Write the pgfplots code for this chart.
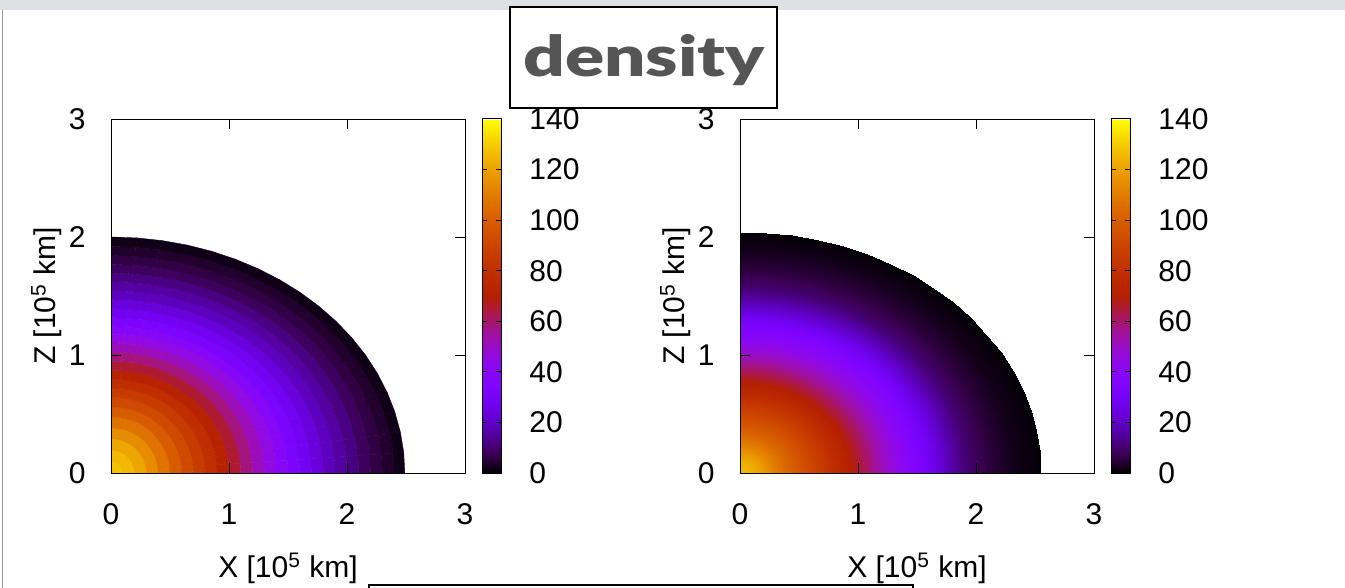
\documentclass[border=0pt]{standalone}
\usepackage{pgfplots}
\pgfplotsset{compat=1.18}
\usepackage{pgfplotstable}
\usepackage{graphicx}
\usepackage{fontspec}
\setmainfont{Liberation Sans}
\newfontfamily\titlefont{Lato Black}
\definecolor{titlegray}{HTML}{555555}
\definecolor{bandgray}{HTML}{DDE1E6}
\pgfplotsset{colormap={gp}{
rgb=(0,0,0) rgb=(0.224,0,0.309) rgb=(0.316,0.001,0.588) rgb=(0.387,0.003,0.809)
rgb=(0.447,0.008,0.951) rgb=(0.5,0.016,1) rgb=(0.548,0.027,0.951) rgb=(0.592,0.043,0.809)
rgb=(0.632,0.064,0.588) rgb=(0.671,0.091,0.309) rgb=(0.707,0.125,0) rgb=(0.742,0.166,0)
rgb=(0.775,0.216,0) rgb=(0.806,0.275,0) rgb=(0.837,0.343,0) rgb=(0.866,0.422,0)
rgb=(0.894,0.512,0) rgb=(0.922,0.614,0) rgb=(0.949,0.729,0) rgb=(0.975,0.857,0) rgb=(1,1,0)}}
% t = angle, ax/bz = semi-axes of a density ring, rho = density (left L, right R)
\pgfplotstableread{
t axL bzL rhoL axR bzR rhoR
0 0 0 128 0 0 126
0 0.1 0.098 127 0.1 0.082 124
0 0.2 0.195 124 0.2 0.164 118
0 0.3 0.29 118 0.3 0.246 110
0 0.4 0.383 111 0.4 0.328 103
0 0.5 0.476 103 0.5 0.41 97
0 0.6 0.56 96 0.6 0.492 91
0 0.7 0.642 89 0.7 0.574 85
0 0.8 0.721 82 0.8 0.656 78
0 0.9 0.796 75 0.9 0.738 72
0 1.0 0.87 69 1.0 0.82 66
0 1.1 0.948 62 1.1 0.902 59
0 1.2 1.026 55 1.2 0.984 52
0 1.3 1.102 48 1.3 1.066 46
0 1.4 1.176 42 1.4 1.148 40
0 1.5 1.24 36 1.5 1.23 35
0 1.6 1.317 31 1.6 1.311 29
0 1.7 1.393 26 1.7 1.393 22
0 1.8 1.469 21 1.8 1.475 16
0 1.9 1.545 17 1.9 1.557 11
0 2.0 1.619 14 2.0 1.639 8
0 2.1 1.694 10 2.1 1.72 5.5
0 2.2 1.768 7 2.2 1.801 4
0 2.3 1.843 5 2.3 1.882 2.5
0 2.4 1.92 3 2.4 1.962 1.5
0 2.49 2.0 1 2.55 2.045 0.5
5 0 0 128 0 0 126
5 0.1 0.098 127 0.1 0.082 124
5 0.2 0.195 124 0.2 0.164 118
5 0.3 0.29 118 0.3 0.246 110
5 0.4 0.383 111 0.4 0.328 103
5 0.5 0.476 103 0.5 0.41 97
5 0.6 0.56 96 0.6 0.492 91
5 0.7 0.642 89 0.7 0.574 85
5 0.8 0.721 82 0.8 0.656 78
5 0.9 0.796 75 0.9 0.738 72
5 1.0 0.87 69 1.0 0.82 66
5 1.1 0.948 62 1.1 0.902 59
5 1.2 1.026 55 1.2 0.984 52
5 1.3 1.102 48 1.3 1.066 46
5 1.4 1.176 42 1.4 1.148 40
5 1.5 1.24 36 1.5 1.23 35
5 1.6 1.317 31 1.6 1.311 29
5 1.7 1.393 26 1.7 1.393 22
5 1.8 1.469 21 1.8 1.475 16
5 1.9 1.545 17 1.9 1.557 11
5 2.0 1.619 14 2.0 1.639 8
5 2.1 1.694 10 2.1 1.72 5.5
5 2.2 1.768 7 2.2 1.801 4
5 2.3 1.843 5 2.3 1.882 2.5
5 2.4 1.92 3 2.4 1.962 1.5
5 2.49 2.0 1 2.55 2.045 0.5
10 0 0 128 0 0 126
10 0.1 0.098 127 0.1 0.082 124
10 0.2 0.195 124 0.2 0.164 118
10 0.3 0.29 118 0.3 0.246 110
10 0.4 0.383 111 0.4 0.328 103
10 0.5 0.476 103 0.5 0.41 97
10 0.6 0.56 96 0.6 0.492 91
10 0.7 0.642 89 0.7 0.574 85
10 0.8 0.721 82 0.8 0.656 78
10 0.9 0.796 75 0.9 0.738 72
10 1.0 0.87 69 1.0 0.82 66
10 1.1 0.948 62 1.1 0.902 59
10 1.2 1.026 55 1.2 0.984 52
10 1.3 1.102 48 1.3 1.066 46
10 1.4 1.176 42 1.4 1.148 40
10 1.5 1.24 36 1.5 1.23 35
10 1.6 1.317 31 1.6 1.311 29
10 1.7 1.393 26 1.7 1.393 22
10 1.8 1.469 21 1.8 1.475 16
10 1.9 1.545 17 1.9 1.557 11
10 2.0 1.619 14 2.0 1.639 8
10 2.1 1.694 10 2.1 1.72 5.5
10 2.2 1.768 7 2.2 1.801 4
10 2.3 1.843 5 2.3 1.882 2.5
10 2.4 1.92 3 2.4 1.962 1.5
10 2.49 2.0 1 2.55 2.045 0.5
15 0 0 128 0 0 126
15 0.1 0.098 127 0.1 0.082 124
15 0.2 0.195 124 0.2 0.164 118
15 0.3 0.29 118 0.3 0.246 110
15 0.4 0.383 111 0.4 0.328 103
15 0.5 0.476 103 0.5 0.41 97
15 0.6 0.56 96 0.6 0.492 91
15 0.7 0.642 89 0.7 0.574 85
15 0.8 0.721 82 0.8 0.656 78
15 0.9 0.796 75 0.9 0.738 72
15 1.0 0.87 69 1.0 0.82 66
15 1.1 0.948 62 1.1 0.902 59
15 1.2 1.026 55 1.2 0.984 52
15 1.3 1.102 48 1.3 1.066 46
15 1.4 1.176 42 1.4 1.148 40
15 1.5 1.24 36 1.5 1.23 35
15 1.6 1.317 31 1.6 1.311 29
15 1.7 1.393 26 1.7 1.393 22
15 1.8 1.469 21 1.8 1.475 16
15 1.9 1.545 17 1.9 1.557 11
15 2.0 1.619 14 2.0 1.639 8
15 2.1 1.694 10 2.1 1.72 5.5
15 2.2 1.768 7 2.2 1.801 4
15 2.3 1.843 5 2.3 1.882 2.5
15 2.4 1.92 3 2.4 1.962 1.5
15 2.49 2.0 1 2.55 2.045 0.5
20 0 0 128 0 0 126
20 0.1 0.098 127 0.1 0.082 124
20 0.2 0.195 124 0.2 0.164 118
20 0.3 0.29 118 0.3 0.246 110
20 0.4 0.383 111 0.4 0.328 103
20 0.5 0.476 103 0.5 0.41 97
20 0.6 0.56 96 0.6 0.492 91
20 0.7 0.642 89 0.7 0.574 85
20 0.8 0.721 82 0.8 0.656 78
20 0.9 0.796 75 0.9 0.738 72
20 1.0 0.87 69 1.0 0.82 66
20 1.1 0.948 62 1.1 0.902 59
20 1.2 1.026 55 1.2 0.984 52
20 1.3 1.102 48 1.3 1.066 46
20 1.4 1.176 42 1.4 1.148 40
20 1.5 1.24 36 1.5 1.23 35
20 1.6 1.317 31 1.6 1.311 29
20 1.7 1.393 26 1.7 1.393 22
20 1.8 1.469 21 1.8 1.475 16
20 1.9 1.545 17 1.9 1.557 11
20 2.0 1.619 14 2.0 1.639 8
20 2.1 1.694 10 2.1 1.72 5.5
20 2.2 1.768 7 2.2 1.801 4
20 2.3 1.843 5 2.3 1.882 2.5
20 2.4 1.92 3 2.4 1.962 1.5
20 2.49 2.0 1 2.55 2.045 0.5
25 0 0 128 0 0 126
25 0.1 0.098 127 0.1 0.082 124
25 0.2 0.195 124 0.2 0.164 118
25 0.3 0.29 118 0.3 0.246 110
25 0.4 0.383 111 0.4 0.328 103
25 0.5 0.476 103 0.5 0.41 97
25 0.6 0.56 96 0.6 0.492 91
25 0.7 0.642 89 0.7 0.574 85
25 0.8 0.721 82 0.8 0.656 78
25 0.9 0.796 75 0.9 0.738 72
25 1.0 0.87 69 1.0 0.82 66
25 1.1 0.948 62 1.1 0.902 59
25 1.2 1.026 55 1.2 0.984 52
25 1.3 1.102 48 1.3 1.066 46
25 1.4 1.176 42 1.4 1.148 40
25 1.5 1.24 36 1.5 1.23 35
25 1.6 1.317 31 1.6 1.311 29
25 1.7 1.393 26 1.7 1.393 22
25 1.8 1.469 21 1.8 1.475 16
25 1.9 1.545 17 1.9 1.557 11
25 2.0 1.619 14 2.0 1.639 8
25 2.1 1.694 10 2.1 1.72 5.5
25 2.2 1.768 7 2.2 1.801 4
25 2.3 1.843 5 2.3 1.882 2.5
25 2.4 1.92 3 2.4 1.962 1.5
25 2.49 2.0 1 2.55 2.045 0.5
30 0 0 128 0 0 126
30 0.1 0.098 127 0.1 0.082 124
30 0.2 0.195 124 0.2 0.164 118
30 0.3 0.29 118 0.3 0.246 110
30 0.4 0.383 111 0.4 0.328 103
30 0.5 0.476 103 0.5 0.41 97
30 0.6 0.56 96 0.6 0.492 91
30 0.7 0.642 89 0.7 0.574 85
30 0.8 0.721 82 0.8 0.656 78
30 0.9 0.796 75 0.9 0.738 72
30 1.0 0.87 69 1.0 0.82 66
30 1.1 0.948 62 1.1 0.902 59
30 1.2 1.026 55 1.2 0.984 52
30 1.3 1.102 48 1.3 1.066 46
30 1.4 1.176 42 1.4 1.148 40
30 1.5 1.24 36 1.5 1.23 35
30 1.6 1.317 31 1.6 1.311 29
30 1.7 1.393 26 1.7 1.393 22
30 1.8 1.469 21 1.8 1.475 16
30 1.9 1.545 17 1.9 1.557 11
30 2.0 1.619 14 2.0 1.639 8
30 2.1 1.694 10 2.1 1.72 5.5
30 2.2 1.768 7 2.2 1.801 4
30 2.3 1.843 5 2.3 1.882 2.5
30 2.4 1.92 3 2.4 1.962 1.5
30 2.49 2.0 1 2.55 2.045 0.5
35 0 0 128 0 0 126
35 0.1 0.098 127 0.1 0.082 124
35 0.2 0.195 124 0.2 0.164 118
35 0.3 0.29 118 0.3 0.246 110
35 0.4 0.383 111 0.4 0.328 103
35 0.5 0.476 103 0.5 0.41 97
35 0.6 0.56 96 0.6 0.492 91
35 0.7 0.642 89 0.7 0.574 85
35 0.8 0.721 82 0.8 0.656 78
35 0.9 0.796 75 0.9 0.738 72
35 1.0 0.87 69 1.0 0.82 66
35 1.1 0.948 62 1.1 0.902 59
35 1.2 1.026 55 1.2 0.984 52
35 1.3 1.102 48 1.3 1.066 46
35 1.4 1.176 42 1.4 1.148 40
35 1.5 1.24 36 1.5 1.23 35
35 1.6 1.317 31 1.6 1.311 29
35 1.7 1.393 26 1.7 1.393 22
35 1.8 1.469 21 1.8 1.475 16
35 1.9 1.545 17 1.9 1.557 11
35 2.0 1.619 14 2.0 1.639 8
35 2.1 1.694 10 2.1 1.72 5.5
35 2.2 1.768 7 2.2 1.801 4
35 2.3 1.843 5 2.3 1.882 2.5
35 2.4 1.92 3 2.4 1.962 1.5
35 2.49 2.0 1 2.55 2.045 0.5
40 0 0 128 0 0 126
40 0.1 0.098 127 0.1 0.082 124
40 0.2 0.195 124 0.2 0.164 118
40 0.3 0.29 118 0.3 0.246 110
40 0.4 0.383 111 0.4 0.328 103
40 0.5 0.476 103 0.5 0.41 97
40 0.6 0.56 96 0.6 0.492 91
40 0.7 0.642 89 0.7 0.574 85
40 0.8 0.721 82 0.8 0.656 78
40 0.9 0.796 75 0.9 0.738 72
40 1.0 0.87 69 1.0 0.82 66
40 1.1 0.948 62 1.1 0.902 59
40 1.2 1.026 55 1.2 0.984 52
40 1.3 1.102 48 1.3 1.066 46
40 1.4 1.176 42 1.4 1.148 40
40 1.5 1.24 36 1.5 1.23 35
40 1.6 1.317 31 1.6 1.311 29
40 1.7 1.393 26 1.7 1.393 22
40 1.8 1.469 21 1.8 1.475 16
40 1.9 1.545 17 1.9 1.557 11
40 2.0 1.619 14 2.0 1.639 8
40 2.1 1.694 10 2.1 1.72 5.5
40 2.2 1.768 7 2.2 1.801 4
40 2.3 1.843 5 2.3 1.882 2.5
40 2.4 1.92 3 2.4 1.962 1.5
40 2.49 2.0 1 2.55 2.045 0.5
45 0 0 128 0 0 126
45 0.1 0.098 127 0.1 0.082 124
45 0.2 0.195 124 0.2 0.164 118
45 0.3 0.29 118 0.3 0.246 110
45 0.4 0.383 111 0.4 0.328 103
45 0.5 0.476 103 0.5 0.41 97
45 0.6 0.56 96 0.6 0.492 91
45 0.7 0.642 89 0.7 0.574 85
45 0.8 0.721 82 0.8 0.656 78
45 0.9 0.796 75 0.9 0.738 72
45 1.0 0.87 69 1.0 0.82 66
45 1.1 0.948 62 1.1 0.902 59
45 1.2 1.026 55 1.2 0.984 52
45 1.3 1.102 48 1.3 1.066 46
45 1.4 1.176 42 1.4 1.148 40
45 1.5 1.24 36 1.5 1.23 35
45 1.6 1.317 31 1.6 1.311 29
45 1.7 1.393 26 1.7 1.393 22
45 1.8 1.469 21 1.8 1.475 16
45 1.9 1.545 17 1.9 1.557 11
45 2.0 1.619 14 2.0 1.639 8
45 2.1 1.694 10 2.1 1.72 5.5
45 2.2 1.768 7 2.2 1.801 4
45 2.3 1.843 5 2.3 1.882 2.5
45 2.4 1.92 3 2.4 1.962 1.5
45 2.49 2.0 1 2.55 2.045 0.5
50 0 0 128 0 0 126
50 0.1 0.098 127 0.1 0.082 124
50 0.2 0.195 124 0.2 0.164 118
50 0.3 0.29 118 0.3 0.246 110
50 0.4 0.383 111 0.4 0.328 103
50 0.5 0.476 103 0.5 0.41 97
50 0.6 0.56 96 0.6 0.492 91
50 0.7 0.642 89 0.7 0.574 85
50 0.8 0.721 82 0.8 0.656 78
50 0.9 0.796 75 0.9 0.738 72
50 1.0 0.87 69 1.0 0.82 66
50 1.1 0.948 62 1.1 0.902 59
50 1.2 1.026 55 1.2 0.984 52
50 1.3 1.102 48 1.3 1.066 46
50 1.4 1.176 42 1.4 1.148 40
50 1.5 1.24 36 1.5 1.23 35
50 1.6 1.317 31 1.6 1.311 29
50 1.7 1.393 26 1.7 1.393 22
50 1.8 1.469 21 1.8 1.475 16
50 1.9 1.545 17 1.9 1.557 11
50 2.0 1.619 14 2.0 1.639 8
50 2.1 1.694 10 2.1 1.72 5.5
50 2.2 1.768 7 2.2 1.801 4
50 2.3 1.843 5 2.3 1.882 2.5
50 2.4 1.92 3 2.4 1.962 1.5
50 2.49 2.0 1 2.55 2.045 0.5
55 0 0 128 0 0 126
55 0.1 0.098 127 0.1 0.082 124
55 0.2 0.195 124 0.2 0.164 118
55 0.3 0.29 118 0.3 0.246 110
55 0.4 0.383 111 0.4 0.328 103
55 0.5 0.476 103 0.5 0.41 97
55 0.6 0.56 96 0.6 0.492 91
55 0.7 0.642 89 0.7 0.574 85
55 0.8 0.721 82 0.8 0.656 78
55 0.9 0.796 75 0.9 0.738 72
55 1.0 0.87 69 1.0 0.82 66
55 1.1 0.948 62 1.1 0.902 59
55 1.2 1.026 55 1.2 0.984 52
55 1.3 1.102 48 1.3 1.066 46
55 1.4 1.176 42 1.4 1.148 40
55 1.5 1.24 36 1.5 1.23 35
55 1.6 1.317 31 1.6 1.311 29
55 1.7 1.393 26 1.7 1.393 22
55 1.8 1.469 21 1.8 1.475 16
55 1.9 1.545 17 1.9 1.557 11
55 2.0 1.619 14 2.0 1.639 8
55 2.1 1.694 10 2.1 1.72 5.5
55 2.2 1.768 7 2.2 1.801 4
55 2.3 1.843 5 2.3 1.882 2.5
55 2.4 1.92 3 2.4 1.962 1.5
55 2.49 2.0 1 2.55 2.045 0.5
60 0 0 128 0 0 126
60 0.1 0.098 127 0.1 0.082 124
60 0.2 0.195 124 0.2 0.164 118
60 0.3 0.29 118 0.3 0.246 110
60 0.4 0.383 111 0.4 0.328 103
60 0.5 0.476 103 0.5 0.41 97
60 0.6 0.56 96 0.6 0.492 91
60 0.7 0.642 89 0.7 0.574 85
60 0.8 0.721 82 0.8 0.656 78
60 0.9 0.796 75 0.9 0.738 72
60 1.0 0.87 69 1.0 0.82 66
60 1.1 0.948 62 1.1 0.902 59
60 1.2 1.026 55 1.2 0.984 52
60 1.3 1.102 48 1.3 1.066 46
60 1.4 1.176 42 1.4 1.148 40
60 1.5 1.24 36 1.5 1.23 35
60 1.6 1.317 31 1.6 1.311 29
60 1.7 1.393 26 1.7 1.393 22
60 1.8 1.469 21 1.8 1.475 16
60 1.9 1.545 17 1.9 1.557 11
60 2.0 1.619 14 2.0 1.639 8
60 2.1 1.694 10 2.1 1.72 5.5
60 2.2 1.768 7 2.2 1.801 4
60 2.3 1.843 5 2.3 1.882 2.5
60 2.4 1.92 3 2.4 1.962 1.5
60 2.49 2.0 1 2.55 2.045 0.5
65 0 0 128 0 0 126
65 0.1 0.098 127 0.1 0.082 124
65 0.2 0.195 124 0.2 0.164 118
65 0.3 0.29 118 0.3 0.246 110
65 0.4 0.383 111 0.4 0.328 103
65 0.5 0.476 103 0.5 0.41 97
65 0.6 0.56 96 0.6 0.492 91
65 0.7 0.642 89 0.7 0.574 85
65 0.8 0.721 82 0.8 0.656 78
65 0.9 0.796 75 0.9 0.738 72
65 1.0 0.87 69 1.0 0.82 66
65 1.1 0.948 62 1.1 0.902 59
65 1.2 1.026 55 1.2 0.984 52
65 1.3 1.102 48 1.3 1.066 46
65 1.4 1.176 42 1.4 1.148 40
65 1.5 1.24 36 1.5 1.23 35
65 1.6 1.317 31 1.6 1.311 29
65 1.7 1.393 26 1.7 1.393 22
65 1.8 1.469 21 1.8 1.475 16
65 1.9 1.545 17 1.9 1.557 11
65 2.0 1.619 14 2.0 1.639 8
65 2.1 1.694 10 2.1 1.72 5.5
65 2.2 1.768 7 2.2 1.801 4
65 2.3 1.843 5 2.3 1.882 2.5
65 2.4 1.92 3 2.4 1.962 1.5
65 2.49 2.0 1 2.55 2.045 0.5
70 0 0 128 0 0 126
70 0.1 0.098 127 0.1 0.082 124
70 0.2 0.195 124 0.2 0.164 118
70 0.3 0.29 118 0.3 0.246 110
70 0.4 0.383 111 0.4 0.328 103
70 0.5 0.476 103 0.5 0.41 97
70 0.6 0.56 96 0.6 0.492 91
70 0.7 0.642 89 0.7 0.574 85
70 0.8 0.721 82 0.8 0.656 78
70 0.9 0.796 75 0.9 0.738 72
70 1.0 0.87 69 1.0 0.82 66
70 1.1 0.948 62 1.1 0.902 59
70 1.2 1.026 55 1.2 0.984 52
70 1.3 1.102 48 1.3 1.066 46
70 1.4 1.176 42 1.4 1.148 40
70 1.5 1.24 36 1.5 1.23 35
70 1.6 1.317 31 1.6 1.311 29
70 1.7 1.393 26 1.7 1.393 22
70 1.8 1.469 21 1.8 1.475 16
70 1.9 1.545 17 1.9 1.557 11
70 2.0 1.619 14 2.0 1.639 8
70 2.1 1.694 10 2.1 1.72 5.5
70 2.2 1.768 7 2.2 1.801 4
70 2.3 1.843 5 2.3 1.882 2.5
70 2.4 1.92 3 2.4 1.962 1.5
70 2.49 2.0 1 2.55 2.045 0.5
75 0 0 128 0 0 126
75 0.1 0.098 127 0.1 0.082 124
75 0.2 0.195 124 0.2 0.164 118
75 0.3 0.29 118 0.3 0.246 110
75 0.4 0.383 111 0.4 0.328 103
75 0.5 0.476 103 0.5 0.41 97
75 0.6 0.56 96 0.6 0.492 91
75 0.7 0.642 89 0.7 0.574 85
75 0.8 0.721 82 0.8 0.656 78
75 0.9 0.796 75 0.9 0.738 72
75 1.0 0.87 69 1.0 0.82 66
75 1.1 0.948 62 1.1 0.902 59
75 1.2 1.026 55 1.2 0.984 52
75 1.3 1.102 48 1.3 1.066 46
75 1.4 1.176 42 1.4 1.148 40
75 1.5 1.24 36 1.5 1.23 35
75 1.6 1.317 31 1.6 1.311 29
75 1.7 1.393 26 1.7 1.393 22
75 1.8 1.469 21 1.8 1.475 16
75 1.9 1.545 17 1.9 1.557 11
75 2.0 1.619 14 2.0 1.639 8
75 2.1 1.694 10 2.1 1.72 5.5
75 2.2 1.768 7 2.2 1.801 4
75 2.3 1.843 5 2.3 1.882 2.5
75 2.4 1.92 3 2.4 1.962 1.5
75 2.49 2.0 1 2.55 2.045 0.5
80 0 0 128 0 0 126
80 0.1 0.098 127 0.1 0.082 124
80 0.2 0.195 124 0.2 0.164 118
80 0.3 0.29 118 0.3 0.246 110
80 0.4 0.383 111 0.4 0.328 103
80 0.5 0.476 103 0.5 0.41 97
80 0.6 0.56 96 0.6 0.492 91
80 0.7 0.642 89 0.7 0.574 85
80 0.8 0.721 82 0.8 0.656 78
80 0.9 0.796 75 0.9 0.738 72
80 1.0 0.87 69 1.0 0.82 66
80 1.1 0.948 62 1.1 0.902 59
80 1.2 1.026 55 1.2 0.984 52
80 1.3 1.102 48 1.3 1.066 46
80 1.4 1.176 42 1.4 1.148 40
80 1.5 1.24 36 1.5 1.23 35
80 1.6 1.317 31 1.6 1.311 29
80 1.7 1.393 26 1.7 1.393 22
80 1.8 1.469 21 1.8 1.475 16
80 1.9 1.545 17 1.9 1.557 11
80 2.0 1.619 14 2.0 1.639 8
80 2.1 1.694 10 2.1 1.72 5.5
80 2.2 1.768 7 2.2 1.801 4
80 2.3 1.843 5 2.3 1.882 2.5
80 2.4 1.92 3 2.4 1.962 1.5
80 2.49 2.0 1 2.55 2.045 0.5
85 0 0 128 0 0 126
85 0.1 0.098 127 0.1 0.082 124
85 0.2 0.195 124 0.2 0.164 118
85 0.3 0.29 118 0.3 0.246 110
85 0.4 0.383 111 0.4 0.328 103
85 0.5 0.476 103 0.5 0.41 97
85 0.6 0.56 96 0.6 0.492 91
85 0.7 0.642 89 0.7 0.574 85
85 0.8 0.721 82 0.8 0.656 78
85 0.9 0.796 75 0.9 0.738 72
85 1.0 0.87 69 1.0 0.82 66
85 1.1 0.948 62 1.1 0.902 59
85 1.2 1.026 55 1.2 0.984 52
85 1.3 1.102 48 1.3 1.066 46
85 1.4 1.176 42 1.4 1.148 40
85 1.5 1.24 36 1.5 1.23 35
85 1.6 1.317 31 1.6 1.311 29
85 1.7 1.393 26 1.7 1.393 22
85 1.8 1.469 21 1.8 1.475 16
85 1.9 1.545 17 1.9 1.557 11
85 2.0 1.619 14 2.0 1.639 8
85 2.1 1.694 10 2.1 1.72 5.5
85 2.2 1.768 7 2.2 1.801 4
85 2.3 1.843 5 2.3 1.882 2.5
85 2.4 1.92 3 2.4 1.962 1.5
85 2.49 2.0 1 2.55 2.045 0.5
90 0 0 128 0 0 126
90 0.1 0.098 127 0.1 0.082 124
90 0.2 0.195 124 0.2 0.164 118
90 0.3 0.29 118 0.3 0.246 110
90 0.4 0.383 111 0.4 0.328 103
90 0.5 0.476 103 0.5 0.41 97
90 0.6 0.56 96 0.6 0.492 91
90 0.7 0.642 89 0.7 0.574 85
90 0.8 0.721 82 0.8 0.656 78
90 0.9 0.796 75 0.9 0.738 72
90 1.0 0.87 69 1.0 0.82 66
90 1.1 0.948 62 1.1 0.902 59
90 1.2 1.026 55 1.2 0.984 52
90 1.3 1.102 48 1.3 1.066 46
90 1.4 1.176 42 1.4 1.148 40
90 1.5 1.24 36 1.5 1.23 35
90 1.6 1.317 31 1.6 1.311 29
90 1.7 1.393 26 1.7 1.393 22
90 1.8 1.469 21 1.8 1.475 16
90 1.9 1.545 17 1.9 1.557 11
90 2.0 1.619 14 2.0 1.639 8
90 2.1 1.694 10 2.1 1.72 5.5
90 2.2 1.768 7 2.2 1.801 4
90 2.3 1.843 5 2.3 1.882 2.5
90 2.4 1.92 3 2.4 1.962 1.5
90 2.49 2.0 1 2.55 2.045 0.5
}\densitydata

\pgfplotsset{
  densax/.style={
    scale only axis, width=177pt, height=177pt,
    xmin=0, xmax=3, ymin=0, ymax=3,
    xtick={0,1,2,3}, ytick={0,1,2,3},
    tick align=inside, tick pos=both, major tick length=5pt,
    axis on top, axis line style={line width=0.5pt, black},
    every tick/.style={black, line width=0.5pt},
    /pgf/number format/assume math mode=true,
    ticklabel style={font=\fontsize{15}{18}\selectfont},
    label style={font=\fontsize{15}{18}\selectfont},
    xticklabel style={anchor=base, inner sep=0pt, yshift=-25.5pt},
    yticklabel style={anchor=east, inner sep=0pt, xshift=-12.5pt},
    xlabel={X [10\textsuperscript{5} km]},
    ylabel={Z [10\textsuperscript{5} km]},
    xlabel style={at={(axis description cs:0.5,-0.2966)}, anchor=base, inner sep=0pt},
    ylabel style={at={(axis description cs:-0.1554,0.5)}, anchor=base, inner sep=0pt},
    colormap name=gp, point meta min=0, point meta max=140,
    colorbar,
    colorbar style={
      at={([xshift=4pt]parent axis.north east)}, anchor=north west,
      scale only axis, width=9.5pt, height=177pt,
      ytick={0,20,...,140},
      tick align=inside, major tick length=2.5pt,
      ytick pos=both, yticklabel pos=right,
      axis line style={line width=0.5pt, black},
      every tick/.style={black, line width=0.5pt},
      /pgf/number format/assume math mode=true,
      yticklabel style={anchor=west, inner sep=0pt, xshift=14pt, font=\fontsize{15}{18}\selectfont},
    },
  }
}

\begin{document}
\begin{tikzpicture}
\useasboundingbox (0,0) rectangle (672.5pt,-294pt);
\fill[white] (0,0) rectangle (672.5pt,-294pt);
\fill[bandgray] (0,0) rectangle (672.5pt,-5pt);
\draw[gray!80, line width=0.5pt] (1pt,-5pt) -- (1pt,-294pt);

\begin{axis}[densax, at={(55.5pt,-236.5pt)}, anchor=south west]
\addplot[surf, shader=faceted, faceted color=mapped color, line width=0.2pt,
  mesh/rows=19, mesh/cols=26, point meta=\thisrow{rhoL}]
  table[x expr={\thisrow{axL}*cos(\thisrow{t})}, y expr={\thisrow{bzL}*sin(\thisrow{t})}] {\densitydata};
\end{axis}

\begin{axis}[densax, at={(370pt,-236.5pt)}, anchor=south west]
\addplot[surf, shader=interp,
  mesh/rows=19, mesh/cols=26, point meta=\thisrow{rhoR}]
  table[x expr={\thisrow{axR}*cos(\thisrow{t})}, y expr={\thisrow{bzR}*sin(\thisrow{t})}] {\densitydata};
\end{axis}

\draw[black, line width=1.25pt, fill=white] (255pt,-3.5pt) rectangle (388.5pt,-54pt);
\node[anchor=base, inner sep=0pt, text=titlegray] at (322pt,-38.5pt)
  {\scalebox{1.30}[1]{\fontsize{28}{28}\selectfont\titlefont density}};
\draw[black, line width=1.25pt, fill=white] (184.5pt,-292.5pt) rectangle (456.5pt,-320pt);
\end{tikzpicture}
\end{document}
